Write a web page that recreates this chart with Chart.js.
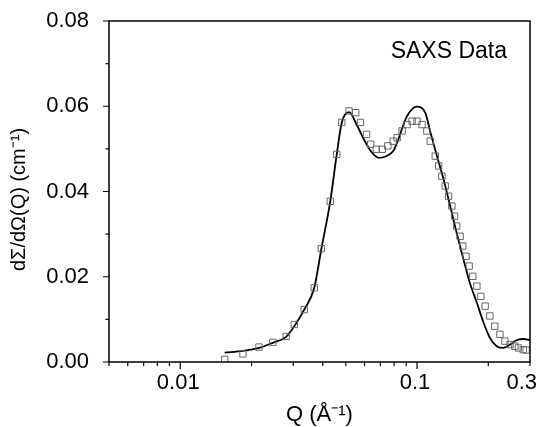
<!DOCTYPE html>
<html>
<head>
<meta charset="utf-8">
<script src="https://cdn.jsdelivr.net/npm/chart.js@4.4.0/dist/chart.umd.min.js"></script>
<style>
  html, body { margin: 0; padding: 0; background: #fff; }
  #wrap { width: 542px; height: 427px; position: relative; }
</style>
</head>
<body>
<div id="wrap"><canvas id="c"></canvas></div>
<script>
// ---- Data ----
const qData = [0.0154, 0.0184, 0.0215, 0.0246, 0.028, 0.0303, 0.0334, 0.0368, 0.0394, 0.043,
  0.0458, 0.0481, 0.0516, 0.0551, 0.0577, 0.0612, 0.0637, 0.0673, 0.0713, 0.0753,
  0.0793, 0.0824, 0.0865, 0.0908, 0.0953, 0.1, 0.105, 0.110, 0.1137, 0.1194,
  0.1234, 0.1273, 0.1315, 0.1359, 0.1403, 0.144, 0.147, 0.152, 0.156, 0.161,
  0.166, 0.172, 0.179, 0.186, 0.194, 0.203, 0.213, 0.224, 0.235, 0.247,
  0.259, 0.268, 0.281, 0.289];
const iData = [0.0006, 0.0019, 0.0035, 0.0046, 0.0060, 0.0088, 0.0123, 0.0174, 0.0266, 0.0377,
  0.0487, 0.0562, 0.0589, 0.0585, 0.0562, 0.0534, 0.0511, 0.0499, 0.0499, 0.0507,
  0.0518, 0.0526, 0.0542, 0.0557, 0.0565, 0.0565, 0.0557, 0.0542, 0.0518, 0.0483,
  0.0460, 0.0436, 0.0413, 0.0389, 0.0366, 0.0342, 0.0319, 0.0295, 0.0272, 0.0248,
  0.0225, 0.0201, 0.0178, 0.0154, 0.0131, 0.0108, 0.0084, 0.0065, 0.0049, 0.0041,
  0.0037, 0.0033, 0.0029, 0.0028];

const qFit = [0.0154, 0.0184, 0.0215, 0.0246, 0.028, 0.0303, 0.0334, 0.0368, 0.0394, 0.043,
  0.0458, 0.0481, 0.0516, 0.056, 0.0597, 0.0637, 0.069, 0.0736, 0.0798, 0.0824,
  0.0908, 0.1, 0.1083, 0.114, 0.1214, 0.1295, 0.138, 0.147, 0.157, 0.167,
  0.179, 0.191, 0.203, 0.217, 0.231, 0.247, 0.263, 0.281, 0.3];
const iFit = [0.0022, 0.0026, 0.0033, 0.0045, 0.0059, 0.0084, 0.0123, 0.0174, 0.0264, 0.0377,
  0.0487, 0.0562, 0.0586, 0.0553, 0.0522, 0.0495, 0.0479, 0.0482, 0.0497, 0.0515,
  0.0577, 0.0599, 0.0585, 0.0538, 0.0483, 0.0428, 0.0366, 0.0303, 0.0241, 0.0186,
  0.0139, 0.0092, 0.0057, 0.0037, 0.0033, 0.0041, 0.0051, 0.0054, 0.0051];

const xLabelTicks = [0.01, 0.1, 0.3];
const xMajorTicks = [0.01, 0.1];
const xMinorTicks = [0.005, 0.006, 0.007, 0.008, 0.009, 0.02, 0.03, 0.04, 0.05, 0.06, 0.07, 0.08, 0.09, 0.2, 0.3];
const yMajorTicks = [0, 0.02, 0.04, 0.06, 0.08];
const yMinorTicks = [0.01, 0.03, 0.05, 0.07];

const xTitle = 'Q (Å⁻¹)';
const yTitle = 'dΣ/dΩ(Q) (cm⁻¹)';
const annotation = 'SAXS Data';

const FONT = "'Liberation Sans', Arial, sans-serif";

const decor = {
  id: 'decor',
  afterDraw(chart) {
    const { ctx, chartArea: a, scales: { x, y } } = chart;
    ctx.save();
    ctx.strokeStyle = '#000';
    ctx.lineWidth = 1.5;
    ctx.strokeRect(a.left, a.top, a.right - a.left, a.bottom - a.top);
    ctx.lineWidth = 1.2;
    ctx.beginPath();
    xMajorTicks.forEach(v => { const p = x.getPixelForValue(v); ctx.moveTo(p, a.bottom); ctx.lineTo(p, a.bottom + 7); });
    xMinorTicks.forEach(v => { const p = x.getPixelForValue(v); ctx.moveTo(p, a.bottom); ctx.lineTo(p, a.bottom + 4); });
    yMajorTicks.forEach(v => { const p = y.getPixelForValue(v); ctx.moveTo(a.left, p); ctx.lineTo(a.left - 6, p); });
    yMinorTicks.forEach(v => { const p = y.getPixelForValue(v); ctx.moveTo(a.left, p); ctx.lineTo(a.left - 3.5, p); });
    ctx.stroke();
    ctx.fillStyle = '#000';
    // x tick labels (last one kept inside the canvas, as in the reference)
    ctx.font = '22px ' + FONT;
    ctx.textBaseline = 'middle';
    xLabelTicks.forEach((v, i) => {
      const p = x.getPixelForValue(v);
      const last = i === xLabelTicks.length - 1;
      ctx.textAlign = last ? 'right' : 'center';
      ctx.fillText(String(v), last ? Math.min(p + 7, 538) : p - 2, a.bottom + 21);
    });
    // annotation
    ctx.font = '23px ' + FONT;
    ctx.textAlign = 'right';
    ctx.fillText(annotation, 507, 52);
    // y title
    ctx.translate(19, 199.5);
    ctx.rotate(-Math.PI / 2);
    ctx.font = '20px ' + FONT;
    ctx.textAlign = 'center';
    ctx.fillText(yTitle, 0, 0);
    ctx.restore();
  }
};

new Chart(document.getElementById('c'), {
  type: 'scatter',
  data: {
    datasets: [
      {
        label: 'data',
        data: qData.map((q, i) => ({ x: q, y: iData[i] })),
        pointStyle: 'rect',
        pointRadius: 4.5,
        borderColor: '#666',
        borderWidth: 1,
        backgroundColor: 'rgba(0,0,0,0)',
        showLine: false
      },
      {
        label: 'fit',
        data: qFit.map((q, i) => ({ x: q, y: iFit[i] })),
        showLine: true,
        pointRadius: 0,
        borderColor: '#000',
        borderWidth: 1.8,
        cubicInterpolationMode: 'monotone',
        fill: false
      }
    ]
  },
  options: {
    responsive: true,
    maintainAspectRatio: false,
    animation: false,
    layout: { padding: { left: 0, right: 12, top: 21, bottom: 0 } },
    plugins: { legend: { display: false }, tooltip: { enabled: false } },
    scales: {
      x: {
        type: 'logarithmic',
        min: 0.005,
        max: 0.3,
        grid: { display: false },
        border: { display: false },
        afterFit(s) { s.height = 65; s.paddingLeft = 0; s.paddingRight = 0; },
        ticks: { display: false },
        title: {
          display: true,
          text: xTitle,
          color: '#000',
          font: { family: FONT, size: 22, lineHeight: 1 },
          padding: { top: 0, bottom: 1 }
        }
      },
      y: {
        min: 0,
        max: 0.08,
        grid: { display: false },
        border: { display: false },
        afterFit(s) { s.width = 109; s.paddingTop = 0; s.paddingBottom = 0; },
        afterBuildTicks(s) { s.ticks = yMajorTicks.map(v => ({ value: v })); },
        ticks: {
          padding: 12,
          color: '#000',
          font: { family: FONT, size: 22 },
          callback: v => Number(v).toFixed(2)
        }
      }
    }
  },
  plugins: [decor]
});
</script>
</body>
</html>
